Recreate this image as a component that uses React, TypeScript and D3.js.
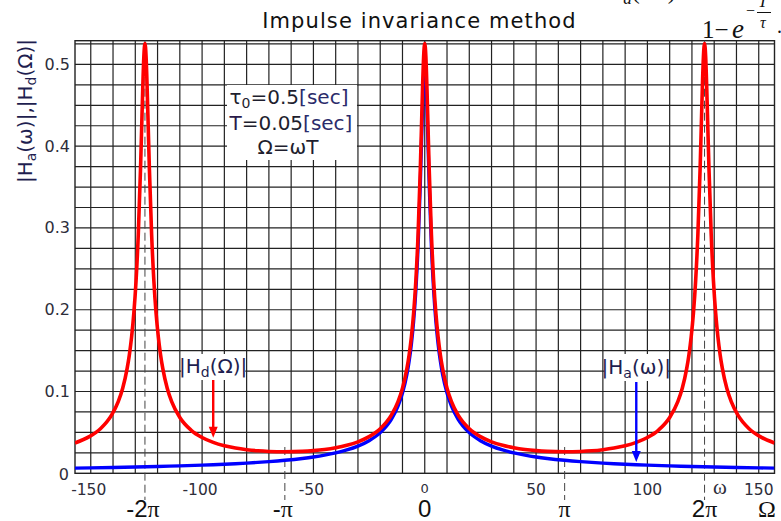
import React from 'react';
import * as d3 from 'd3';

const W = 781;
const H = 521;

// ω [rad/s] samples and |Hd(Ω)|
const redOmega = [
  -157.08, -150.66, -145.66, -140.66, -137.66, -135.66, -133.66, -132.66, -131.66, -130.66,
  -129.66, -128.66, -127.66, -127.16, -126.66, -126.16, -125.66, -125.16, -124.66, -124.16, -123.66,
  -122.66, -121.66, -120.66, -119.66, -118.66, -117.66, -115.66, -113.66, -110, -105, -100,
  -95, -90, -85, -80, -75, -70, -62.83, -55, -50, -45, -40, -35, -30, -25, -20, -15, -12,
  -10, -8, -7, -6, -5, -4, -3, -2, -1.5, -1, -0.5, 0, 0.5, 1, 1.5, 2, 3, 4, 5, 6, 7, 8, 10,
  12, 15, 20, 25, 30, 35, 40, 45, 50, 55, 62.83, 70, 75, 80, 85, 90, 95, 100, 105, 110,
  113.66, 115.66, 117.66, 118.66, 119.66, 120.66, 121.66, 122.66, 123.66, 124.16, 124.66, 125.16,
  125.66, 126.16, 126.66, 127.16, 127.66, 128.66, 129.66, 130.66, 131.66, 132.66, 133.66, 135.66,
  137.66, 140.66, 145.66, 150.66, 157.08,
];
const redMag = [
  0.0371, 0.0448, 0.0545, 0.0711, 0.0877, 0.1041, 0.1283, 0.1451, 0.1668, 0.1957,
  0.2354, 0.2917, 0.3717, 0.4204, 0.47, 0.5097, 0.5254, 0.5097, 0.47, 0.4204, 0.3717,
  0.2917, 0.2354, 0.1957, 0.1668, 0.1451, 0.1283, 0.1041, 0.0877, 0.0683, 0.0529, 0.0438,
  0.0378, 0.0337, 0.0309, 0.0289, 0.0275, 0.0267, 0.0263, 0.0268, 0.0277, 0.0291, 0.0312, 0.0342, 0.0385, 0.0448, 0.0545, 0.0711, 0.0877,
  0.1041, 0.1283, 0.1451, 0.1668, 0.1957, 0.2354, 0.2917, 0.3717, 0.4204, 0.47, 0.5097, 0.5254, 0.5097, 0.47, 0.4204, 0.3717, 0.2917, 0.2354, 0.1957, 0.1668, 0.1451, 0.1283, 0.1041,
  0.0877, 0.0711, 0.0545, 0.0448, 0.0385, 0.0342, 0.0312, 0.0291, 0.0277, 0.0268, 0.0263, 0.0267, 0.0275, 0.0289, 0.0309, 0.0337, 0.0378, 0.0438, 0.0529, 0.0683,
  0.0877, 0.1041, 0.1283, 0.1451, 0.1668, 0.1957, 0.2354, 0.2917, 0.3717, 0.4204, 0.47, 0.5097,
  0.5254, 0.5097, 0.47, 0.4204, 0.3717, 0.2917, 0.2354, 0.1957, 0.1668, 0.1451, 0.1283, 0.1041,
  0.0877, 0.0711, 0.0545, 0.0448, 0.0371,
];

// ω samples and |Ha(ω)|
const blueOmega = [
  -157.08, -150, -140, -130, -120, -110, -100, -95, -90, -85, -80, -75, -70, -62.83, -55, -50,
  -45, -40, -35, -30, -25, -20, -15, -12, -10, -8, -7, -6, -5, -4, -3, -2, -1.5, -1, -0.5, 0,
  0.5, 1, 1.5, 2, 3, 4, 5, 6, 7, 8, 10, 12, 15, 20, 25, 30, 35, 40, 45, 50, 55, 62.83, 70, 75,
  80, 85, 90, 95, 100, 110, 120, 130, 140, 150, 157.08,
];
const blueMag = [
  0.00637, 0.00667, 0.00714, 0.00769, 0.00833, 0.00909, 0.01, 0.01052, 0.01111, 0.01176, 0.0125, 0.01333, 0.01428, 0.01591, 0.01817, 0.01998,
  0.0222, 0.02497, 0.02853, 0.03326, 0.03987, 0.04975, 0.06608, 0.0822, 0.09806, 0.12127, 0.13736, 0.15811, 0.1857, 0.22361, 0.27735, 0.35355, 0.4, 0.44721, 0.48507, 0.5,
  0.48507, 0.44721, 0.4, 0.35355, 0.27735, 0.22361, 0.1857, 0.15811, 0.13736, 0.12127, 0.09806, 0.0822, 0.06608, 0.04975, 0.03987, 0.03326, 0.02853, 0.02497, 0.0222, 0.01998, 0.01817, 0.01591, 0.01428, 0.01333,
  0.0125, 0.01176, 0.01111, 0.01052, 0.01, 0.00909, 0.00833, 0.00769, 0.00714, 0.00667, 0.00637,
];

const xTickValues = [-150, -100, -50, 0, 50, 100, 150];
const yTickValues = [0, 0.1, 0.2, 0.3, 0.4, 0.5];
const piMultiples = [-2, -1, 0, 1, 2];
const piLabels = ['-2', '-', '0', '', '2'];
const samplingPeriod = 0.05;

const TXT = '#2d2d3a';
const SANS = "'DejaVu Sans', Verdana, sans-serif";
const SERIF = "'Liberation Serif', 'Times New Roman', serif";
const ARIAL = "'Liberation Sans', Arial, sans-serif";

export default function App() {
  const x = d3.scaleLinear().domain([-50 * Math.PI, 50 * Math.PI]).range([75, 774.5]);
  const y = d3.scaleLinear().domain([0, 0.529]).range([473.3, 40.7]);
  const [x0, x1] = x.range();
  const [yb, yt] = y.range();

  const line = d3
    .line<[number, number]>()
    .x((d) => x(d[0]))
    .y((d) => y(d[1]))
    .curve(d3.curveMonotoneX);

  const redPts = redOmega.map((w, i) => [w, redMag[i]] as [number, number]);
  const bluePts = blueOmega.map((w, i) => [w, blueMag[i]] as [number, number]);

  const vGrid = d3.range(-150, 151, 10);
  const hGrid = d3.range(1, 22).map((k) => k * 0.025);

  const hdX = x(-95);
  const haX = x(95);

  return (
    <svg
      width={W}
      height={H}
      viewBox={`0 0 ${W} ${H}`}
      style={{ position: 'absolute', left: 0, top: 0, background: '#fff' }}
      fontFamily={SANS}
    >
      <defs>
        <clipPath id="plot">
          <rect x={x0} y={yt} width={x1 - x0} height={yb - yt} />
        </clipPath>
      </defs>
      <rect x={0} y={0} width={W} height={H} fill="#fff" />

      {/* title */}
      <text x={419.5} y={28} textAnchor="middle" fontSize={21} letterSpacing={1.1} fill="#111">
        Impulse invariance method
      </text>

      {/* clipped formula fragment at top right */}
      <g fontFamily={SERIF} fill="#111">
        <text x={606} y={-1} fontSize={24} fontStyle="italic">
          H<tspan dy={5} fontSize={17}>a</tspan>
          <tspan dy={-5} fontStyle="normal">(  ω  )</tspan>
        </text>
        <text x={702} y={38} fontSize={25}>1</text>
        <text x={721.5} y={38} fontSize={25} textAnchor="middle">−</text>
        <text x={732} y={38} fontSize={27} fontStyle="italic">e</text>
        <text x={746} y={16} fontSize={16}>−</text>
        <text x={758} y={7} fontSize={17} fontStyle="italic">T</text>
        <line x1={757} x2={771} y1={12.5} y2={12.5} stroke="#111" strokeWidth={1} />
        <text x={760} y={28} fontSize={16} fontStyle="italic">τ</text>
        <text x={777} y={33} fontSize={20}>.</text>
      </g>

      {/* grid */}
      <g stroke="#222" strokeWidth={1.2}>
        {vGrid.map((v) => (
          <line key={'v' + v} x1={x(v)} x2={x(v)} y1={yt} y2={yb} />
        ))}
        {hGrid.map((v, i) => (
          <line key={'h' + i} x1={x0} x2={x1} y1={y(v)} y2={y(v)} />
        ))}
        <rect x={x0} y={yt} width={x1 - x0} height={yb - yt} fill="none" strokeWidth={1.4} />
      </g>

      {/* π marker dashed lines */}
      <g stroke="#444" strokeWidth={1} strokeDasharray="8,4">
        {piMultiples
          .filter((k) => k !== 0)
          .map((k) => {
            const px = x((k * Math.PI) / samplingPeriod);
            return (
              <line
                key={'pi' + k}
                x1={px}
                x2={px}
                y1={Math.abs(k) === 2 ? yt : 447}
                y2={500}
              />
            );
          })}
      </g>

      {/* curves */}
      <g clipPath="url(#plot)" fill="none" strokeLinejoin="round">
        <path d={line(bluePts) || ''} stroke="#0000ff" strokeWidth={3.4} />
        <path d={line(redPts) || ''} stroke="#ff0000" strokeWidth={3.6} />
      </g>

      {/* parameter box */}
      <rect x={227} y={85} width={130} height={75} fill="#fff" />
      <g fontSize={20} fill="#1e1e2e" textAnchor="middle">
        <text x={289} y={104}>
          τ<tspan dy={4} fontSize={14}>0</tspan>
          <tspan dy={-4}>=0.5</tspan>
          <tspan fill="#2b2b6b">[sec]</tspan>
        </text>
        <text x={291} y={130}>
          <tspan fill="#2a1a4a">T</tspan>=0.05<tspan fill="#2b2b6b">[sec]</tspan>
        </text>
        <text x={288} y={154}>Ω=ωT</text>
      </g>

      {/* |Hd(Ω)| annotation */}
      <rect x={hdX - 32} y={354} width={64} height={26} fill="#fff" />
      <text x={hdX} y={373} fontSize={20} textAnchor="middle" fill="#1e1e50">
        |H<tspan dy={4} fontSize={14}>d</tspan>
        <tspan dy={-4}>(Ω)|</tspan>
      </text>
      <line x1={hdX} x2={hdX} y1={380} y2={y(0.0435) - 8} stroke="#ff0000" strokeWidth={2.4} />
      <path
        d={`M${hdX},${y(0.0435)} L${hdX - 4.5},${y(0.0435) - 11} L${hdX + 4.5},${y(0.0435) - 11} Z`}
        fill="#ff0000"
      />

      {/* |Ha(ω)| annotation */}
      <rect x={haX - 32} y={354} width={64} height={27} fill="#fff" />
      <text x={haX} y={374} fontSize={20} textAnchor="middle" fill="#1e1e50">
        |H<tspan dy={4} fontSize={14}>a</tspan>
        <tspan dy={-4}>(ω)|</tspan>
      </text>
      <line x1={haX} x2={haX} y1={382} y2={y(0.0138) - 8} stroke="#0000ff" strokeWidth={2.4} />
      <path
        d={`M${haX},${y(0.0138)} L${haX - 4.5},${y(0.0138) - 11} L${haX + 4.5},${y(0.0138) - 11} Z`}
        fill="#0000ff"
      />

      {/* y ticks */}
      <g fontSize={16} fill={TXT}>
        {yTickValues.map((v) =>
          v === 0 ? (
            <text key={'y' + v} x={69} y={y(v) + 7} textAnchor="end">
              0
            </text>
          ) : (
            <text key={'y' + v} x={70} y={y(v) + 5.5} textAnchor="end">
              {String(v)}
            </text>
          )
        )}
      </g>

      {/* y axis label */}
      <text
        transform="translate(32,111) rotate(-90)"
        textAnchor="middle"
        fontSize={20}
        fill="#1e1e50"
      >
        |H<tspan dy={4} fontSize={14}>a</tspan>
        <tspan dy={-4}>(ω)|,|H</tspan>
        <tspan dy={4} fontSize={14}>d</tspan>
        <tspan dy={-4}>(Ω)|</tspan>
      </text>

      {/* x ticks */}
      <g fontSize={15.5} fill={TXT} textAnchor="middle">
        {xTickValues.map((v) => (
          <text key={'x' + v} x={x(v) - (v < 0 ? 2 : 0)} y={v === 0 ? 493 : 494.5} fontSize={v === 0 ? 13 : 15.5}>
            {String(v)}
          </text>
        ))}
        <text x={720} y={494} fontSize={21} fontFamily={SERIF}>
          ω
        </text>
      </g>

      {/* π multiples */}
      <g fontSize={24} fill="#111" textAnchor="middle">
        {piMultiples.map((k, i) => (
          <text key={'p' + k} x={x((k * Math.PI) / samplingPeriod) - (k < 0 ? 2 : 0)} y={517} fontFamily={ARIAL}>
            {piLabels[i]}
            {k !== 0 ? <tspan fontFamily={SERIF}>π</tspan> : null}
          </text>
        ))}
        <text x={767} y={517} fontFamily={SERIF}>
          Ω
        </text>
      </g>
    </svg>
  );
}
